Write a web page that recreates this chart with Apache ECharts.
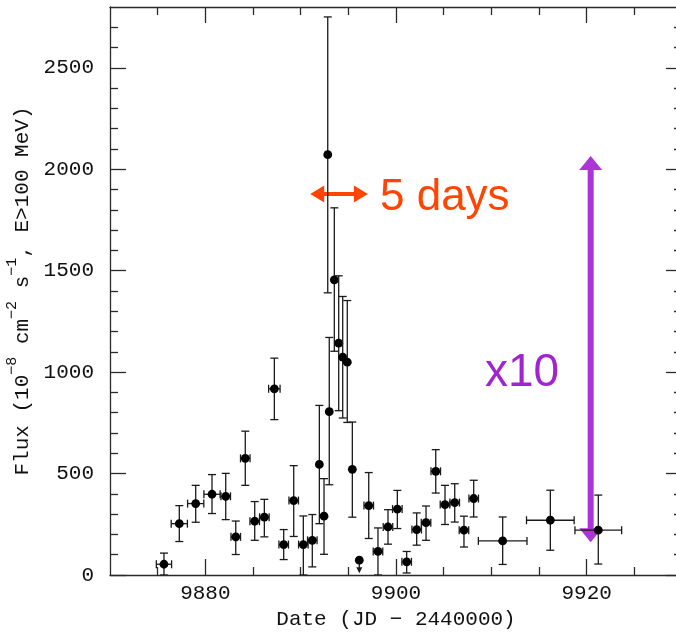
<!DOCTYPE html>
<html><head><meta charset="utf-8">
<script src="https://cdn.jsdelivr.net/npm/echarts@6/dist/echarts.min.js"></script>
<style>html,body{margin:0;padding:0;background:#fff}#c{width:676px;height:641px}</style>
</head><body><div id="c"></div>
<script>
// ---- data ----
const days = [9875.66, 9877.27, 9878.99, 9880.70, 9882.14, 9883.19, 9884.19, 9885.18, 9886.19, 9887.24,
  9888.22, 9889.27, 9890.28, 9891.22, 9891.96, 9892.45, 9892.84, 9893.00, 9893.53, 9893.99,
  9894.41, 9894.89, 9895.42, 9896.15, 9897.14, 9898.11, 9899.16, 9900.14, 9901.12, 9902.17,
  9903.15, 9904.17, 9905.14, 9906.16, 9907.13, 9908.15, 9911.19, 9916.19, 9921.22];
const flux = [53, 253, 352, 398, 388, 188, 575, 265, 285, 918,
  150, 367, 150, 171, 545, 290, 2072, 805, 1455, 1143,
  1074, 1049, 521, 73, 342, 116, 237, 325, 65, 224,
  258, 511, 347, 357, 221, 377, 168, 270, 221];
const fluxLow = [0, 165, 260, 303, 273, 101, 442, 171, 188, 766,
  76, 190, 0, 40, 253, 102, 1391, 445, 1103, 810,
  774, 752, 285, 73, 180, 0, 152, 229, 10, 147,
  171, 404, 249, 261, 138, 286, 52, 122, 54];
const fluxHigh = [108, 342, 442, 495, 501, 266, 709, 362, 373, 1069,
  224, 539, 291, 298, 836, 475, 2751, 1171, 1810, 1475,
  1373, 1353, 754, 73, 505, 232, 322, 417, 116, 306,
  340, 618, 442, 450, 290, 467, 286, 418, 394];
const dayErr = [0.8, 0.85, 0.85, 0.85, 0.5, 0.5, 0.5, 0.5, 0.5, 0.6,
  0.5, 0.5, 0.5, 0.5, 0.25, 0.25, 0.25, 0.25, 0.25, 0.25,
  0.25, 0.25, 0.25, 0.25, 0.5, 0.5, 0.5, 0.5, 0.5, 0.5,
  0.5, 0.5, 0.5, 0.5, 0.5, 0.5, 2.55, 2.5, 2.45];
const upperLimit = [0,0,0,0,0,0,0,0,0,0, 0,0,0,0,0,0,0,0,0,0, 0,0,0,1,0,0,0,0,0,0, 0,0,0,0,0,0,0,0,0];

const xMajorTicks = [9880, 9900, 9920];
const xMinorTicks = [9875, 9885, 9890, 9895, 9905, 9910, 9915, 9925];
const yMajorTicks = [0, 500, 1000, 1500, 2000, 2500];
const yMinorTicks = [100, 200, 300, 400, 600, 700, 800, 900, 1100, 1200, 1300, 1400,
  1600, 1700, 1800, 1900, 2100, 2200, 2300, 2400, 2600, 2700];

const xRange = [9870, 9930];
const yRange = [0, 2800];

// ---- chart ----
const FONT = 'Liberation Mono';
const FRAME = '#2a2a2a';
const TXT = '#111';
const chart = echarts.init(document.getElementById('c'), null, {renderer: 'canvas'});
const plain = v => String(Math.round(v));

function xAx(pos, ticks, len, showLine, labels, extra) {
  return Object.assign({
    type: 'value', min: xRange[0], max: xRange[1], position: pos,
    axisLine: {show: showLine, onZero: false, lineStyle: {color: FRAME, width: 1.3}},
    axisTick: {show: true, inside: true, length: len, customValues: ticks, lineStyle: {color: FRAME, width: 1.3}},
    axisLabel: labels ? {show: true, customValues: ticks, formatter: plain, margin: 8, fontFamily: FONT, fontSize: 21, color: TXT} : {show: false},
    splitLine: {show: false}
  }, extra || {});
}
function yAx(pos, ticks, len, showLine, labels, extra) {
  return Object.assign({
    type: 'value', min: yRange[0], max: yRange[1], position: pos,
    axisLine: {show: showLine, onZero: false, lineStyle: {color: FRAME, width: 1.3}},
    axisTick: {show: true, inside: true, length: len, customValues: ticks, lineStyle: {color: FRAME, width: 1.3}},
    axisLabel: labels ? {show: true, customValues: ticks, formatter: plain, margin: 16, fontFamily: FONT, fontSize: 21, color: TXT} : {show: false},
    splitLine: {show: false}
  }, extra || {});
}

const seriesData = days.map((d, i) => [d, flux[i], fluxLow[i], fluxHigh[i], dayErr[i], upperLimit[i]]);
const EB = '#1a1a1a';

function renderItem(params, api) {
  const x = api.value(0), y = api.value(1), lo = api.value(2), hi = api.value(3), dx = api.value(4), ul = api.value(5);
  const p = api.coord([x, y]);
  const pl = api.coord([x, lo]);
  const ph = api.coord([x, hi]);
  const pL = api.coord([x - dx, y]);
  const pR = api.coord([x + dx, y]);
  const ls = {stroke: EB, lineWidth: 1.3};
  const ch = [];
  const cap = 4;
  if (!ul) {
    ch.push({type: 'line', shape: {x1: p[0], y1: pl[1], x2: p[0], y2: ph[1]}, style: ls});
    ch.push({type: 'line', shape: {x1: p[0] - cap, y1: ph[1], x2: p[0] + cap, y2: ph[1]}, style: ls});
    ch.push({type: 'line', shape: {x1: p[0] - cap, y1: pl[1], x2: p[0] + cap, y2: pl[1]}, style: ls});
  } else {
    ch.push({type: 'line', shape: {x1: p[0], y1: p[1], x2: p[0], y2: p[1] + 10}, style: ls});
    ch.push({type: 'polygon', shape: {points: [[p[0] - 3, p[1] + 7], [p[0] + 3, p[1] + 7], [p[0], p[1] + 13]]}, style: {fill: EB}});
  }
  if (pR[0] - pL[0] > 9) {
    ch.push({type: 'line', shape: {x1: pL[0], y1: p[1], x2: pR[0], y2: p[1]}, style: ls});
    ch.push({type: 'line', shape: {x1: pL[0], y1: p[1] - cap, x2: pL[0], y2: p[1] + cap}, style: ls});
    ch.push({type: 'line', shape: {x1: pR[0], y1: p[1] - cap, x2: pR[0], y2: p[1] + cap}, style: ls});
  }
  ch.push({type: 'circle', shape: {cx: p[0], cy: p[1], r: 4.4}, style: {fill: '#000'}});
  return {type: 'group', children: ch};
}

const option = {
  animation: false,
  backgroundColor: '#fff',
  grid: {left: 110, top: 7, right: -6, bottom: 66, containLabel: false, outerBoundsMode: 'none'},
  xAxis: [
    xAx('bottom', xMajorTicks, 16, true, true, {
      name: 'Date (JD − 2440000)', nameLocation: 'middle', nameGap: 34,
      nameTextStyle: {fontFamily: FONT, fontSize: 21, color: TXT}
    }),
    xAx('bottom', xMinorTicks, 8, false, false),
    xAx('top', xMajorTicks, 16, true, false),
    xAx('top', xMinorTicks, 8, false, false)
  ],
  yAxis: [
    yAx('left', yMajorTicks, 16, true, true, {
      name: '{n|Flux (10}{s|−8}{n| cm}{s|−2}{n| s}{s|−1}{n|, E>100 MeV)}',
      nameLocation: 'middle', nameGap: 76, nameRotate: 90,
      nameTextStyle: {
        fontFamily: FONT, fontSize: 21, color: TXT,
        rich: {
          n: {fontFamily: FONT, fontSize: 21, color: TXT, lineHeight: 28, verticalAlign: 'bottom'},
          s: {fontFamily: FONT, fontSize: 15, color: TXT, lineHeight: 18, verticalAlign: 'top'}
        }
      }
    }),
    yAx('left', yMinorTicks, 8, false, false),
    yAx('right', yMajorTicks, 16, true, false),
    yAx('right', yMinorTicks, 8, false, false)
  ],
  series: [{
    type: 'custom', xAxisIndex: 0, yAxisIndex: 0,
    renderItem: renderItem, data: seriesData, clip: true
  }]
};
chart.setOption(option);

// ---- annotations (anchored in data coordinates) ----
const P = (d, f) => chart.convertToPixel({xAxisIndex: 0, yAxisIndex: 0}, [d, f]);
const ORANGE = '#ff4500';
const PURPLE = '#ab35d8';
const PURPLE_T = '#a024cf';
const oa = P(9891.0, 1878), ob = P(9897.05, 1878);
const pt = P(9920.42, 2065), pb = P(9920.42, 161);
const t5 = P(9898.32, 1858);
const t10 = P(9909.34, 996);
const oy = oa[1];
const graphic = [
  {type: 'line', shape: {x1: oa[0] + 10, y1: oy, x2: ob[0] - 10, y2: oy}, style: {stroke: ORANGE, lineWidth: 4}},
  {type: 'polygon', shape: {points: [[oa[0], oy], [oa[0] + 14, oy - 8.5], [oa[0] + 14, oy + 8.5]]}, style: {fill: ORANGE}},
  {type: 'polygon', shape: {points: [[ob[0], oy], [ob[0] - 14, oy - 8.5], [ob[0] - 14, oy + 8.5]]}, style: {fill: ORANGE}},
  {type: 'text', x: t5[0], y: t5[1], style: {text: '5 days', fill: ORANGE, font: '44px "Liberation Sans"', textAlign: 'left', textVerticalAlign: 'middle'}},
  {type: 'line', shape: {x1: pt[0], y1: pt[1] + 12, x2: pb[0], y2: pb[1] - 12}, style: {stroke: PURPLE, lineWidth: 6}},
  {type: 'polygon', shape: {points: [[pt[0], pt[1]], [pt[0] - 11.5, pt[1] + 14], [pt[0] + 11.5, pt[1] + 14]]}, style: {fill: PURPLE}},
  {type: 'polygon', shape: {points: [[pb[0], pb[1]], [pb[0] - 11.5, pb[1] - 14], [pb[0] + 11.5, pb[1] - 14]]}, style: {fill: PURPLE}},
  {type: 'text', x: t10[0], y: t10[1], style: {text: 'x10', fill: PURPLE_T, font: '46px "Liberation Sans"', textAlign: 'left', textVerticalAlign: 'middle'}}
];
chart.setOption({graphic: graphic});
</script></body></html>
